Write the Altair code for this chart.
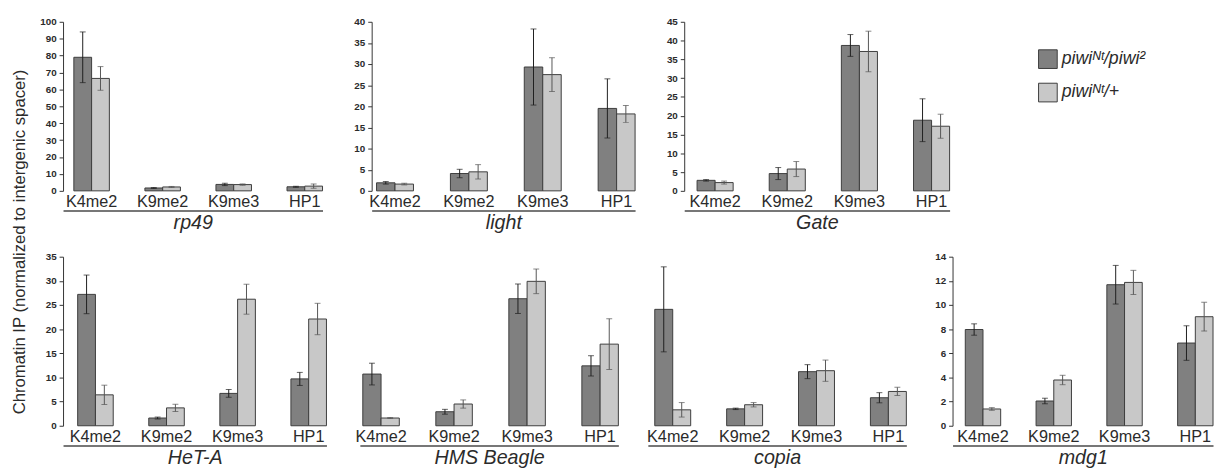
import altair as alt
import pandas as pd

# ---------------- data ----------------
histone_marks = ["K4me2", "K9me2", "K9me3", "HP1"]
MUT = "piwiᴺᵗ/piwi²"
HET = "piwiᴺᵗ/+"
genotypes = [MUT, HET]

rp49_mut = [79.0, 1.7, 3.8, 2.4]
rp49_mut_err = [15.0, 0.3, 0.7, 0.3]
rp49_het = [66.5, 2.3, 3.7, 2.8]
rp49_het_err = [7.0, 0.3, 0.4, 1.3]

light_mut = [1.9, 4.1, 29.3, 19.5]
light_mut_err = [0.3, 1.0, 9.0, 7.0]
light_het = [1.6, 4.5, 27.5, 18.2]
light_het_err = [0.2, 1.7, 4.0, 2.0]

gate_mut = [2.8, 4.6, 38.7, 18.8]
gate_mut_err = [0.2, 1.6, 2.9, 5.7]
gate_het = [2.2, 5.8, 37.1, 17.2]
gate_het_err = [0.4, 2.0, 5.4, 3.2]

heta_mut = [27.2, 1.6, 6.7, 9.7]
heta_mut_err = [4.0, 0.2, 0.8, 1.35]
heta_het = [6.4, 3.7, 26.2, 22.1]
heta_het_err = [2.0, 0.75, 3.1, 3.25]

beagle_mut = [10.7, 2.9, 26.3, 12.4]
beagle_mut_err = [2.25, 0.5, 3.05, 2.1]
beagle_het = [1.6, 4.5, 29.9, 16.9]
beagle_het_err = [0.1, 0.85, 2.55, 5.25]

copia_mut = [24.1, 3.5, 11.2, 5.8]
copia_mut_err = [8.8, 0.15, 1.45, 1.05]
copia_het = [3.3, 4.35, 11.4, 7.1]
copia_het_err = [1.5, 0.45, 2.2, 0.85]

mdg1_mut = [7.97, 2.05, 11.68, 6.85]
mdg1_mut_err = [0.47, 0.23, 1.6, 1.43]
mdg1_het = [1.39, 3.79, 11.87, 9.03]
mdg1_het_err = [0.11, 0.39, 1.0, 1.19]

# y-axis tick values per panel
rp49_ticks = list(range(0, 101, 10))
light_ticks = list(range(0, 41, 5))
gate_ticks = list(range(0, 46, 5))
heta_ticks = list(range(0, 36, 5))
mdg1_ticks = list(range(0, 15, 2))

# ---------------- styling ----------------
FONT = "Liberation Sans"
TXT = "#2b2b2b"
DARK = "#808080"
LIGHT = "#c8c8c8"
EDGE = "#3c3c3c"
H = 172


def table(gene, mut, mut_err, het, het_err):
    rows = []
    for g, vals, errs in ((MUT, mut, mut_err), (HET, het, het_err)):
        for m, v, e in zip(histone_marks, vals, errs):
            rows.append({"gene": gene, "mark": m, "genotype": g,
                         "value": v, "lo": max(v - e, 0), "hi": v + e})
    return pd.DataFrame(rows)


def panel(gene, df, ymax, ticks, width, pad_outer, show_y=True):
    yscale = alt.Scale(domain=[0, ymax], nice=False, zero=True)
    if show_y:
        yaxis = alt.Axis(values=ticks, title=None, grid=False,
                         labelFont=FONT, labelFontSize=10, labelFontWeight="bold",
                         labelColor=TXT, labelPadding=3, tickSize=4,
                         tickColor="#333333", domainColor="#333333",
                         domainWidth=1, tickWidth=1, labelFlush=False,
                         labelOverlap=False)
    else:
        yaxis = None
    x = alt.X("mark:N", sort=histone_marks,
              scale=alt.Scale(paddingInner=0.5, paddingOuter=pad_outer, align=1),
              axis=alt.Axis(title=gene, labelAngle=0, domain=True,
                            domainColor="#4a4a4a", domainWidth=1.5,
                            ticks=False, tickSize=0, offset=20,
                            labelPadding=-17, labelBaseline="top",
                            labelFont=FONT, labelFontSize=16.5, labelColor=TXT,
                            labelOverlap=False,
                            titleFont=FONT, titleFontSize=20,
                            titleFontStyle="italic", titleFontWeight="normal",
                            titleColor=TXT, titlePadding=2))
    xo = alt.XOffset("genotype:N", sort=genotypes,
                     scale=alt.Scale(paddingInner=0, paddingOuter=0))
    base = alt.Chart(df)
    bars = base.mark_bar(stroke=EDGE, strokeWidth=1).encode(
        x=x, xOffset=xo,
        y=alt.Y("value:Q", scale=yscale, axis=yaxis),
        color=alt.Color("genotype:N", sort=genotypes,
                        scale=alt.Scale(domain=genotypes, range=[DARK, LIGHT]),
                        legend=alt.Legend(title=None, orient="none",
                                          legendX=992, legendY=28,
                                          symbolType="square", symbolSize=361,
                                          symbolStrokeColor=EDGE,
                                          symbolStrokeWidth=1,
                                          labelFont=FONT, labelFontSize=18,
                                          labelFontStyle="italic",
                                          labelColor=TXT, rowPadding=10,
                                          labelOffset=4, padding=0)),
    )
    err_color = alt.condition(alt.datum.genotype == MUT,
                              alt.value("#1e1e1e"), alt.value("#555555"))
    rule = base.mark_rule(strokeWidth=1).encode(
        x=x, xOffset=xo, y=alt.Y("lo:Q", scale=yscale, axis=yaxis), y2="hi:Q",
        color=err_color)
    cap_hi = base.mark_tick(orient="horizontal", size=6, thickness=1).encode(
        x=x, xOffset=xo, y=alt.Y("hi:Q", scale=yscale, axis=yaxis), color=err_color)
    cap_lo = base.mark_tick(orient="horizontal", size=6, thickness=1).encode(
        x=x, xOffset=xo, y=alt.Y("lo:Q", scale=yscale, axis=yaxis), color=err_color)
    return alt.layer(bars, rule, cap_hi, cap_lo).properties(width=width, height=H)


p_rp49 = panel("rp49", table("rp49", rp49_mut, rp49_mut_err, rp49_het, rp49_het_err),
               100, rp49_ticks, 264, 0.076)
p_light = panel("light", table("light", light_mut, light_mut_err, light_het, light_het_err),
                40, light_ticks, 268, 0.033)
p_gate = panel("Gate", table("Gate", gate_mut, gate_mut_err, gate_het, gate_het_err),
               45, gate_ticks, 270, 0.089)
p_heta = panel("HeT-A", table("HeT-A", heta_mut, heta_mut_err, heta_het, heta_het_err),
               35, heta_ticks, 268, 0.103)
p_beagle = panel("HMS Beagle", table("HMS Beagle", beagle_mut, beagle_mut_err, beagle_het, beagle_het_err),
                 35, heta_ticks, 263, 0.02, show_y=False)
p_copia = panel("copia", table("copia", copia_mut, copia_mut_err, copia_het, copia_het_err),
                35, heta_ticks, 263, 0.048, show_y=False)
p_mdg1 = panel("mdg1", table("mdg1", mdg1_mut, mdg1_mut_err, mdg1_het, mdg1_het_err),
               14, mdg1_ticks, 265, 0.09)

top = alt.hconcat(p_rp49, p_light, p_gate, spacing=30).resolve_scale(
    x="independent", y="independent", xOffset="independent")
bottom = alt.hconcat(p_heta, p_beagle, p_copia, p_mdg1, spacing=27).resolve_scale(
    x="independent", y="independent", xOffset="independent")

chart = alt.vconcat(top, bottom, spacing=20).resolve_scale(
    x="independent", y="independent", xOffset="independent"
).properties(
    title=alt.TitleParams(text="Chromatin IP (normalized to intergenic spacer)",
                          orient="left", anchor="middle", font=FONT,
                          fontSize=17, fontWeight="normal", color=TXT, offset=11),
    padding={"left": 3, "top": 5, "right": 0, "bottom": 0},
    background="white",
).configure_view(stroke=None)

chart.save("out.html", embed_options={"renderer": "svg", "actions": False})
